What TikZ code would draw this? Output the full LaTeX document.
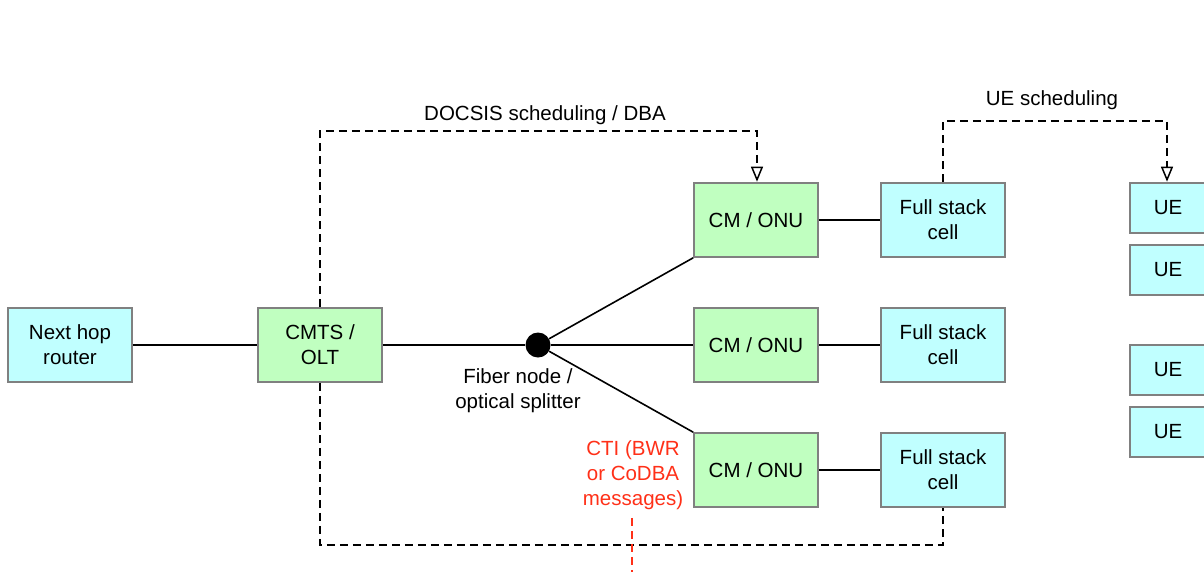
\documentclass[tikz,border=0pt]{standalone}
\usepackage{fontspec}
\setmainfont{Liberation Sans}
\usetikzlibrary{arrows.meta}
\definecolor{cellcyan}{RGB}{192,255,255}
\definecolor{cmgreen}{RGB}{192,255,192}
\definecolor{boxgray}{RGB}{128,128,128}
\definecolor{ctired}{RGB}{255,48,24}
\begin{document}
\begin{tikzpicture}[x=1pt,y=-1pt,
  every node/.style={font=\fontsize{20.5}{25}\selectfont, align=center, inner sep=0pt},
  box/.style={draw=boxgray, line width=1.6pt, minimum width=124pt, minimum height=74pt},
  cyanbox/.style={box, fill=cellcyan},
  greenbox/.style={box, fill=cmgreen},
  uebox/.style={draw=boxgray, line width=1.6pt, fill=cellcyan, minimum width=76pt, minimum height=50pt},
  link/.style={line width=1.6pt, black},
  ctrl/.style={line width=1.5pt, black, dash pattern=on 8pt off 5pt},
  openarrow/.style={-{Triangle[open, length=15pt, width=12pt, line width=1.5pt]}, shorten >=0.5pt}
]
\useasboundingbox (0,0) rectangle (1204,571);
\clip (0,0) rectangle (1204,571);

% network elements
\node[cyanbox]  (router) at (70,345)  {Next hop\\router};
\node[greenbox] (cmts)   at (320,345) {CMTS /\\OLT};
\node[circle, fill=black, minimum size=25pt] (split) at (538,345) {};
\node (splitlbl) at (518,391) {Fiber node /\\optical splitter};

\node[greenbox] (cm1) at (756,220) {CM / ONU};
\node[greenbox] (cm2) at (756,345) {CM / ONU};
\node[greenbox] (cm3) at (756,470) {CM / ONU};

\node[cyanbox] (cell1) at (943,220) {Full stack\\cell};
\node[cyanbox] (cell2) at (943,345) {Full stack\\cell};
\node[cyanbox] (cell3) at (943,470) {Full stack\\cell};

\node[uebox] (ue1) at (1168,208) {UE};
\node[uebox] (ue2) at (1168,270) {UE};
\node[uebox] (ue3) at (1168,370) {UE};
\node[uebox] (ue4) at (1168,432) {UE};

% data path
\draw[link] (router) -- (cmts);
\draw[link] (cmts) -- (split);
\draw[link] (split) -- (cm1.south west);
\draw[link] (split) -- (cm2);
\draw[link] (split) -- (cm3.north west);
\draw[link] (cm1) -- (cell1);
\draw[link] (cm2) -- (cell2);
\draw[link] (cm3) -- (cell3);

% scheduling control paths
\coordinate (dbaL) at (320,131);
\coordinate (dbaR) at (757,131);
\draw[ctrl, openarrow] (cmts.north) -- (dbaL) -- (dbaR) -- (cm1.north -| dbaR);
\node (dbalbl) at (545,115) {DOCSIS scheduling / DBA};

\coordinate (ueL) at (943,121);
\coordinate (ueR) at (1167,121);
\draw[ctrl, openarrow] (cell1.north) -- (ueL) -- (ueR) -- (ue1.north -| ueR);
\node (uelbl) at (1052,100) {UE scheduling};

\coordinate (ctiL) at (320,545);
\coordinate (ctiR) at (943,545);
\draw[ctrl] (cmts.south) -- (ctiL) -- (ctiR) -- (cell3.south);

% CTI message flow
\node[text=ctired] (ctilbl) at (633,475) {CTI (BWR\\or CoDBA\\messages)};
\coordinate (ctiEnd) at (632,580);
\draw[ctrl, draw=ctired] (ctilbl.south -| ctiEnd) ++(0,8) -- (ctiEnd);
\end{tikzpicture}
\end{document}
